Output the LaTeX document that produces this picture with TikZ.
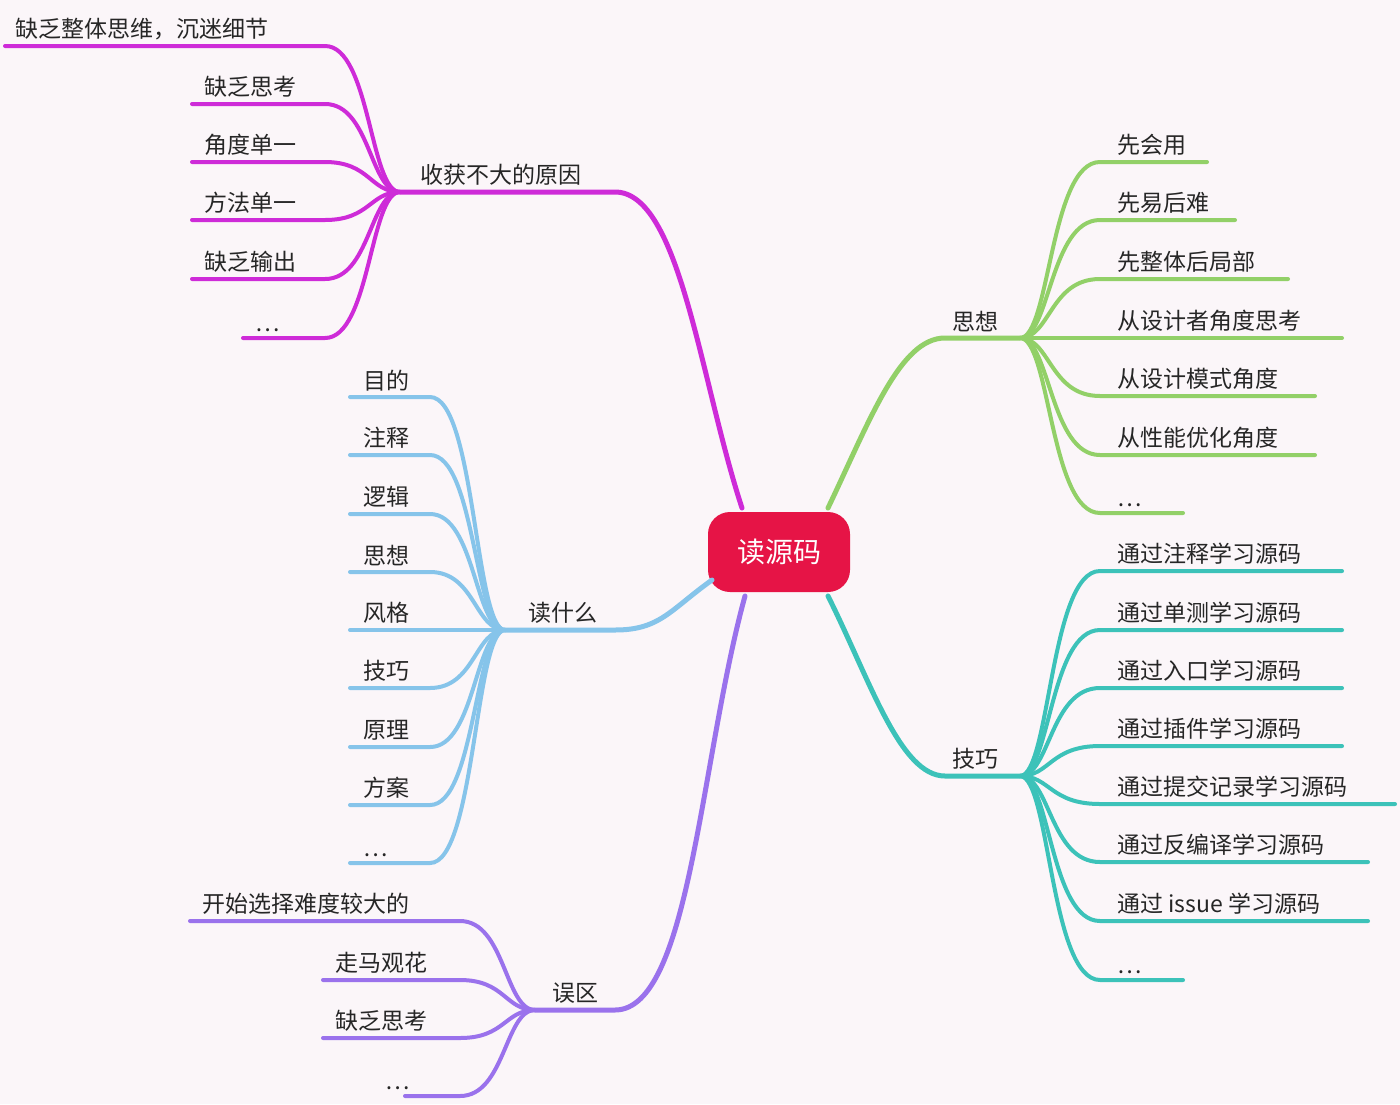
\documentclass[tikz,border=0pt]{standalone}
\usepackage{fontspec}
\setmainfont{Noto Sans CJK SC}
\begin{document}
\begin{tikzpicture}[x=1pt,y=-1pt,line cap=round,
  br/.style={line width=5pt},
  ch/.style={line width=4pt},
  lab/.style={anchor=south west,inner sep=0pt,font=\fontsize{23}{26}\selectfont,text=black!85}]
\definecolor{bgc}{HTML}{FBF6F9}
\definecolor{colM}{HTML}{CE2BD8}
\definecolor{colG}{HTML}{92D068}
\definecolor{colT}{HTML}{3CC2B9}
\definecolor{colB}{HTML}{86C4EA}
\definecolor{colP}{HTML}{9A72EC}
\fill[bgc] (0,0) rectangle (1400,1104);
\useasboundingbox (0,0) rectangle (1400,1104);
% center
\node[fill={rgb,255:red,230;green,20;blue,70},rounded corners=22pt,minimum width=142pt,minimum height=80pt,text=white,font=\fontsize{28}{30}\selectfont] (c) at (779,552) {读源码};
% hubs
\coordinate (hm) at (400,192); \coordinate (hg) at (1020,338);
\coordinate (ht) at (1020,776); \coordinate (hb) at (505,630);
\coordinate (hp) at (535,1010);
% main branches
\draw[br,colM] (742,508) .. controls (700,380) and (680,192) .. (615,192) -- (hm);
\draw[br,colG] (828,508) .. controls (870,420) and (900,338) .. (945,338) -- (hg);
\draw[br,colT] (828,596) .. controls (870,680) and (900,776) .. (945,776) -- (ht);
\draw[br,colB] (712,580) .. controls (670,610) and (660,630) .. (615,630) -- (hb);
\draw[br,colP] (745,596) .. controls (700,760) and (690,1010) .. (615,1010) -- (hp);
\node[lab] (lm) at (420,186) {收获不大的原因};
\node[lab] (lg) at (952,332) {思想};
\node[lab] (lt) at (952,770) {技巧};
\node[lab] (lb) at (528,624) {读什么};
\node[lab] (lp) at (552,1004) {误区};
% magenta children
\foreach \y/\s/\t/\tx in {46/5/缺乏整体思维，沉迷细节/15,104/192/缺乏思考/204,162/192/角度单一/204,220/192/方法单一/204,279/192/缺乏输出/204,338/243/…/255}{
  \draw[ch,colM] (hm) .. controls (370,192) and (370,\y) .. (325,\y) -- (\s,\y);
  \node[lab] at (\tx,\y-6) {\t};}
% green
\foreach \y/\e/\t in {162/1207/先会用,220/1235/先易后难,279/1288/先整体后局部,338/1342/从设计者角度思考,396/1315/从设计模式角度,455/1315/从性能优化角度,513/1183/…}{
  \draw[ch,colG] (hg) .. controls (1050,338) and (1050,\y) .. (1100,\y) -- (\e,\y);
  \node[lab] at (1117,\y-6) {\t};}
% teal
\foreach \y/\e/\t in {571/1342/通过注释学习源码,630/1342/通过单测学习源码,688/1342/通过入口学习源码,746/1342/通过插件学习源码,804/1395/通过提交记录学习源码,862/1368/通过反编译学习源码,921/1368/通过 issue 学习源码,980/1183/…}{
  \draw[ch,colT] (ht) .. controls (1050,776) and (1050,\y) .. (1100,\y) -- (\e,\y);
  \node[lab] at (1117,\y-6) {\t};}
% blue
\foreach \y/\t in {397/目的,455/注释,514/逻辑,572/思想,630/风格,688/技巧,747/原理,805/方案,863/…}{
  \draw[ch,colB] (hb) .. controls (475,630) and (475,\y) .. (430,\y) -- (350,\y);
  \node[lab] at (363,\y-6) {\t};}
% purple
\foreach \y/\s/\t/\tx in {921/190/开始选择难度较大的/202,980/323/走马观花/335,1038/323/缺乏思考/335,1096/405/…/385}{
  \draw[ch,colP] (hp) .. controls (505,1010) and (505,\y) .. (460,\y) -- (\s,\y);
  \node[lab] at (\tx,\y-6) {\t};}
\end{tikzpicture}
\end{document}
